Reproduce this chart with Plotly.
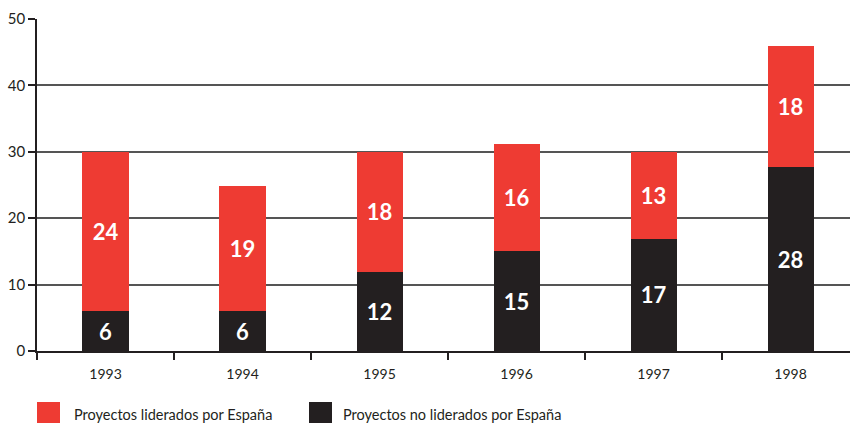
import plotly.graph_objects as go

years = ["1993", "1994", "1995", "1996", "1997", "1998"]
no_liderados = [6.0, 6.0, 11.9, 15.0, 16.9, 27.7]
liderados = [24.0, 18.8, 18.1, 16.2, 13.0, 18.3]
no_liderados_labels = ["6", "6", "12", "15", "17", "28"]
liderados_labels = ["24", "19", "18", "16", "13", "18"]
legend_names = ["Proyectos liderados por España", "Proyectos no liderados por España"]
y_ticks = [0, 10, 20, 30, 40, 50]

RED = "#EE3B33"
BLACK = "#231F20"
FONT = "Lato"

fig = go.Figure()
fig.add_trace(go.Bar(
    x=years, y=no_liderados, name=legend_names[1], marker_color=BLACK,
    marker_line_width=0, width=0.336,
    text=no_liderados_labels, textposition="inside", insidetextanchor="middle",
    textangle=0, constraintext="none",
    textfont=dict(family=FONT, size=22, color="white", weight="bold"),
))
fig.add_trace(go.Bar(
    x=years, y=liderados, name=legend_names[0], marker_color=RED,
    marker_line_width=0, width=0.336,
    text=liderados_labels, textposition="inside", insidetextanchor="middle",
    textangle=0, constraintext="none",
    textfont=dict(family=FONT, size=22, color="white", weight="bold"),
))

W, H = 850, 423
ml, mr, mt, mb = 37, 0, 19, 72
pw, ph = W - ml - mr, H - mt - mb

def px(x):
    return (x - ml) / pw

def py(y):
    return (H - mb - y) / ph

shapes = []
annotations = []
legend_items = [(37, 60, 72, RED, legend_names[0]), (309, 332, 341, BLACK, legend_names[1])]
for x0, x1, tx, col, name in legend_items:
    shapes.append(dict(type="rect", xref="paper", yref="paper",
                       x0=px(x0), x1=px(x1), y0=py(425), y1=py(402),
                       fillcolor=col, line_width=0, layer="above"))
    annotations.append(dict(xref="paper", yref="paper", x=px(tx), y=py(414),
                            xanchor="left", yanchor="middle", showarrow=False,
                            text=name, font=dict(family=FONT, size=14.5, color="#231F20")))

fig.update_layout(
    width=W, height=H,
    margin=dict(l=ml, r=mr, t=mt, b=mb, autoexpand=False),
    barmode="stack",
    showlegend=False,
    plot_bgcolor="white", paper_bgcolor="white",
    font=dict(family=FONT, size=14, color="#231F20"),
    shapes=shapes, annotations=annotations,
    xaxis=dict(
        type="category", range=[-0.5, 5.434], automargin=False,
        tickson="boundaries", ticks="outside", ticklen=7, tickwidth=1.5, tickcolor="#231F20",
        showline=True, linecolor="#231F20", linewidth=1.5, ticklabelstandoff=9,
        showgrid=False, tickfont=dict(size=14),
    ),
    yaxis=dict(
        range=[0, 50], tickvals=y_ticks, ticks="outside", ticklen=7, tickwidth=1.5,
        automargin=False,
        tickcolor="#231F20", showline=True, linecolor="#231F20", linewidth=1.5,
        showgrid=True, gridcolor="#555555", gridwidth=1.5, zeroline=False,
        tickfont=dict(size=15),
    ),
)

fig.write_html("out.html", config={"displayModeBar": False},
               post_script="document.body.style.margin='0';document.body.style.overflow='hidden';")
